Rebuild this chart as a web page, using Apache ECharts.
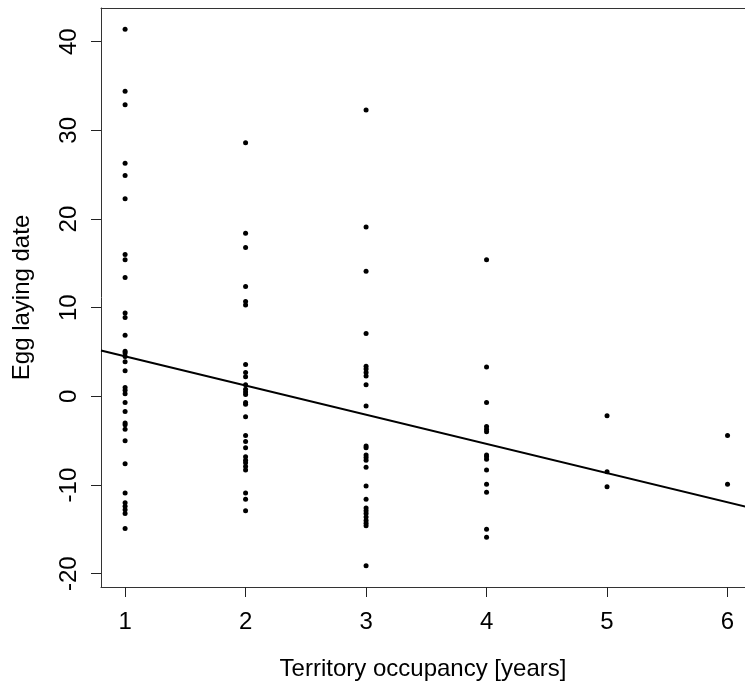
<!DOCTYPE html>
<html lang="en">
	<head>
		<meta charset="utf-8" />
		<title>Egg laying date vs territory occupancy</title>
		<style>
			body {
				margin: 0;
				background: #fff;
			}
			#chart {
				width: 745px;
				height: 690px;
			}
		</style>
	</head>
	<body>
		<div id="chart"></div>

		<script src="https://cdn.jsdelivr.net/npm/echarts@6/dist/echarts.min.js"></script>
		<script type="text/javascript">
			// territory occupancy (years) -> egg laying dates
			const years = [1, 2, 3, 4, 5, 6];
			const eggYear1 = [41.4, 34.4, 32.9, 26.3, 24.9, 22.3, 16.0, 15.4, 13.4, 9.4, 8.9, 6.9, 5.1, 4.9, 4.5, 3.9, 2.9, 1.0, 0.7, 0.3, -0.7, -1.7, -3.0, -3.2, -3.7, -5.0, -7.6, -10.9, -12.0, -12.4, -12.8, -13.2, -14.9];
			const eggYear2 = [28.6, 18.4, 16.8, 12.4, 10.7, 10.3, 3.6, 2.7, 2.2, 1.3, 0.8, 0.5, 0.2, -0.7, -0.9, -2.3, -4.4, -5.1, -5.8, -6.8, -7.2, -7.5, -7.9, -8.3, -10.9, -11.6, -12.9];
			const eggYear3 = [32.3, 19.1, 14.1, 7.1, 3.4, 3.1, 2.7, 2.3, 1.3, -1.1, -5.6, -5.8, -6.6, -6.9, -7.2, -8.0, -10.1, -11.6, -12.6, -12.9, -13.2, -13.6, -14.0, -14.3, -14.6, -19.1];
			const eggYear4 = [15.4, 3.3, -0.7, -3.4, -3.7, -4.0, -6.6, -6.8, -7.1, -8.3, -9.9, -10.8, -15.0, -15.9];
			const eggYear5 = [-2.2, -8.5, -10.2];
			const eggYear6 = [-4.4, -9.9];

			// fitted regression line across the plot region
			const fitX = [0.8, 6.2];
			const fitY = [5.17, -12.6];

			const yTicks = [-20, -10, 0, 10, 20, 30, 40];

			const columns = [eggYear1, eggYear2, eggYear3, eggYear4, eggYear5, eggYear6];
			const points = [];
			columns.forEach((col, i) => {
				col.forEach((v) => points.push([years[i], v]));
			});
			const fitLine = fitX.map((x, i) => [x, fitY[i]]);

			const font = "'Liberation Sans', Arial, sans-serif";
			const ink = '#222';

			// the plot box runs on past the right edge of the picture
			const opt = {
				backgroundColor: '#fff',
				animation: false,
				grid: {
					left: 101,
					top: 8,
					right: 0,
					bottom: 103,
				},
				xAxis: [
					{
						type: 'value',
						min: 0.8,
						max: 6.145,
						name: 'Territory occupancy [years]',
						nameLocation: 'middle',
						nameGap: 70,
						nameTextStyle: { fontFamily: font, fontSize: 24, color: '#000' },
						splitLine: { show: false },
						axisLine: { show: true, onZero: false, lineStyle: { color: '#333' } },
						axisTick: { show: true, length: 10, lineStyle: { color: ink }, customValues: years },
						axisLabel: { fontFamily: font, fontSize: 24, color: '#000', margin: 23, customValues: years },
					},
					{
						type: 'value',
						position: 'top',
						min: 0.8,
						max: 6.145,
						splitLine: { show: false },
						axisLine: { show: true, onZero: false, lineStyle: { color: '#333' } },
						axisTick: { show: false },
						axisLabel: { show: false },
					},
				],
				yAxis: {
					type: 'value',
					min: -21.5,
					max: 43.8,
					name: 'Egg laying date',
					nameLocation: 'middle',
					nameGap: 67,
					nameTextStyle: { fontFamily: font, fontSize: 24, color: '#000' },
					splitLine: { show: false },
					axisLine: { show: true, onZero: false, lineStyle: { color: '#333' } },
					axisTick: { show: true, length: 10, lineStyle: { color: ink }, customValues: yTicks },
					axisLabel: { fontFamily: font, fontSize: 24, color: '#000', margin: 20, rotate: 90, customValues: yTicks },
				},
				series: [
					{
						type: 'scatter',
						data: points,
						symbol: 'circle',
						symbolSize: 5,
						itemStyle: { color: '#000', opacity: 1 },
					},
					{
						type: 'line',
						data: fitLine,
						symbol: 'none',
						clip: true,
						lineStyle: { color: '#000', width: 2 },
					},
				],
			};

			const chart = echarts.init(document.getElementById('chart'));
			chart.setOption(opt);
		</script>
	</body>
</html>
